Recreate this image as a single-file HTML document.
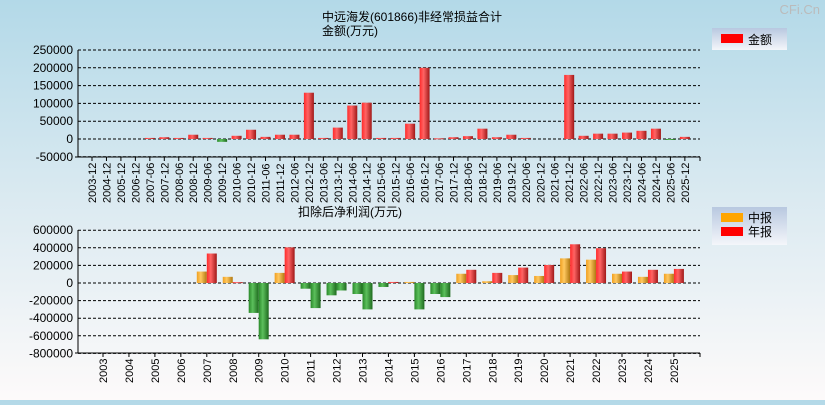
<!DOCTYPE html>
<html><head><meta charset="utf-8"><style>
html,body{margin:0;padding:0}
body{width:825px;height:400px;overflow:hidden;background:linear-gradient(#b3d9e8,#dbeaf1 50%,#fdfafa);font-family:"Liberation Sans","Noto Sans CJK SC",sans-serif}
</style></head><body>
<svg id="c" width="825" height="400" xmlns="http://www.w3.org/2000/svg">
<defs>
<linearGradient id="gr" x1="0" x2="1"><stop offset="0" stop-color="#ff2a2a"/><stop offset="0.4" stop-color="#ff6464"/><stop offset="1" stop-color="#a01818"/></linearGradient>
<linearGradient id="gg" x1="0" x2="1"><stop offset="0" stop-color="#2a8a2a"/><stop offset="0.4" stop-color="#5cbf5c"/><stop offset="1" stop-color="#1e6a1e"/></linearGradient>
<linearGradient id="go" x1="0" x2="1"><stop offset="0" stop-color="#f0a020"/><stop offset="0.4" stop-color="#ffc860"/><stop offset="1" stop-color="#b07810"/></linearGradient>
<linearGradient id="lg" x1="0" y1="0" x2="0" y2="1"><stop offset="0" stop-color="#b8c8e0"/><stop offset="1" stop-color="#f4f6fa"/></linearGradient>
</defs>
<text x="412" y="21" font-size="12" text-anchor="middle">中远海发(601866)非经常损益合计</text>
<text x="350" y="35" font-size="12" text-anchor="middle">金额(万元)</text>
<text x="820" y="14" font-size="13" fill="#bbb" text-anchor="end">CFi.Cn</text>
<rect x="712" y="28" width="75" height="22" fill="url(#lg)"/>
<rect x="721" y="34" width="22" height="9" fill="#ff0000"/>
<text x="748" y="44" font-size="12">金额</text>
<text x="350" y="216" font-size="12" text-anchor="middle">扣除后净利润(万元)</text>
<rect x="712" y="207" width="75" height="38" fill="url(#lg)"/>
<rect x="721" y="213" width="22" height="9" fill="#ffa500"/>
<text x="748" y="222" font-size="12">中报</text>
<rect x="721" y="227" width="22" height="9" fill="#ff0000"/>
<text x="748" y="236" font-size="12">年报</text>
<g id="g1"></g><g id="g2"></g>
</svg>
<script>
const topCats=["2003-12","2004-12","2005-12","2006-12"];
for(let y=2007;y<=2025;y++){topCats.push(y+"-06");topCats.push(y+"-12");}
const topVals=[0,0,0,0,3000,5000,3000,12000,3000,-8000,9000,26000,6000,12000,12000,130000,3000,32000,94000,102000,3000,3000,43000,200000,2000,5000,8000,29000,5000,12000,3000,0,0,180000,9000,15000,15000,18000,23000,29000,-1500,6000];
const topTicks=[250000,200000,150000,100000,50000,0,-50000];
const botCats=[];for(let y=2003;y<=2025;y++)botCats.push(String(y));
const botInterim=[0,0,0,0,130000,70000,-340000,115000,-65000,-140000,-125000,-45000,12000,-125000,105000,20000,90000,80000,280000,265000,105000,70000,105000];
const botAnnual=[0,0,0,0,335000,10000,-640000,405000,-285000,-85000,-300000,12000,-300000,-160000,150000,115000,175000,205000,440000,395000,130000,150000,160000];
const botTicks=[600000,400000,200000,0,-200000,-400000,-600000,-800000];
const NS="http://www.w3.org/2000/svg";
function mk(p,t,a){const e=document.createElementNS(NS,t);for(const k in a)e.setAttribute(k,a[k]);p.appendChild(e);return e;}
function axes(g,x0,x1,yTop,yBot,ticks,yScale,prefix){
  ticks.forEach(t=>{const y=yScale(t);
    const l=mk(g,"line",{x1:x0,x2:x1,y1:y,y2:y,stroke:"#000","stroke-dasharray":"3,2","stroke-width":1});
    
    
    const tx=mk(g,"text",{x:x0-5,y:y+4,"font-size":12,"text-anchor":"end"});tx.textContent=t;
    
    
  });
  const ya=mk(g,"line",{x1:x0,x2:x0,y1:yTop,y2:yBot,stroke:"#000"});
  
  
  const xa=mk(g,"line",{x1:x0-3,x2:x1,y1:yBot,y2:yBot,stroke:"#000"});
  
  
}
// top chart
const g1=document.getElementById("g1");
const t0=139,tpx=17.8/50000;
const ty=v=>t0-v*tpx;
const tx=i=>92+i*14.46;
axes(g1,78,700,50,157,topTicks,ty,"top");
mk(g1,"line",{x1:700,x2:700,y1:157,y2:161,stroke:"#000"});
topCats.forEach((c,i)=>{
  const x=tx(i);
  mk(g1,"line",{x1:x,x2:x,y1:157,y2:161,stroke:"#000"});
  const v=topVals[i];
  if(v!==0){const y1=ty(Math.max(v,0)),y2=ty(Math.min(v,0));
    const r=mk(g1,"rect",{x:x-5,y:y1,width:10,height:Math.max(1,y2-y1),fill:v<0?"url(#gg)":"url(#gr)"});
    
    }
  const t=mk(g1,"text",{x:0,y:0,"font-size":11,transform:`translate(${x+4},203) rotate(-90)`});t.textContent=c;
  
  
});
// bottom chart
const g2=document.getElementById("g2");
const b0=283,bpx=17.6/200000;
const by=v=>b0-v*bpx;
const bx=i=>103+i*25.95;
axes(g2,78,700,230,353,botTicks,by,"bottom");
mk(g2,"line",{x1:700,x2:700,y1:353,y2:357,stroke:"#000"});
botCats.forEach((c,i)=>{
  const x=bx(i);
  mk(g2,"line",{x1:x,x2:x,y1:353,y2:357,stroke:"#000"});
  [[botInterim[i],x-10,"url(#go)","interim"],[botAnnual[i],x,"url(#gr)","annual"]].forEach(([v,bx0,f,n])=>{
    if(v===0)return;
    const y1=by(Math.max(v,0)),y2=by(Math.min(v,0));
    const r=mk(g2,"rect",{x:bx0,y:y1,width:10,height:Math.max(1,y2-y1),fill:v<0?"url(#gg)":f});
    
    
  });
  const t=mk(g2,"text",{x:0,y:0,"font-size":11,transform:`translate(${x+4},383) rotate(-90)`});t.textContent=c;
  
  
});
</script>
</body></html>
